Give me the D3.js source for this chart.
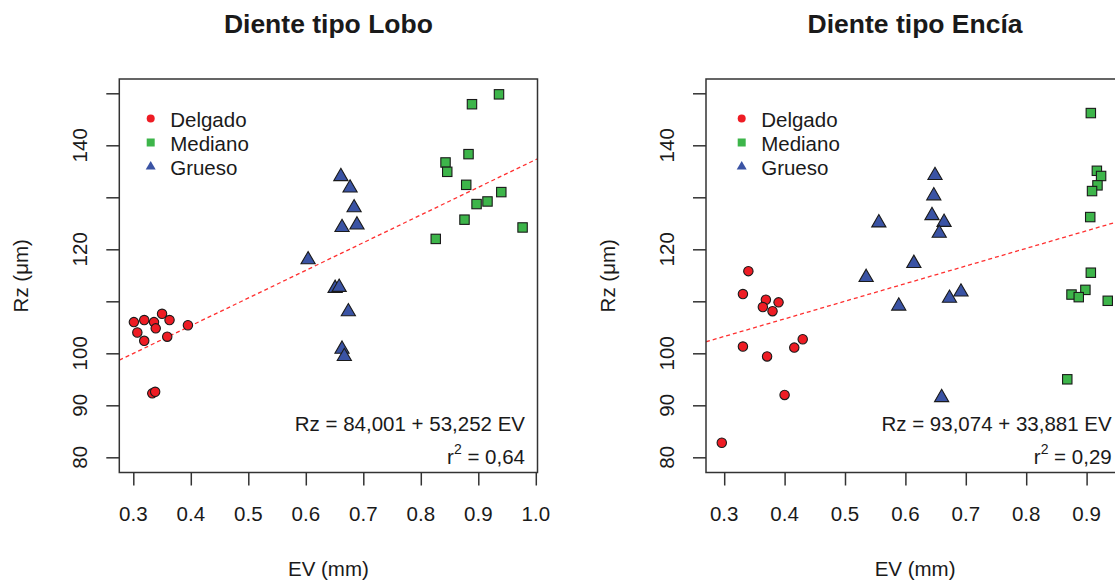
<!DOCTYPE html>
<html>
<head>
<meta charset="utf-8">
<script src="https://cdn.jsdelivr.net/npm/d3@7"></script>
<style>
  body { margin: 0; background: #fff; }
  text { font-family: "Liberation Sans", Arial, sans-serif; fill: #1a1a1a; }
</style>
</head>
<body>
<div id="chart"></div>
<script>
// data
var groups = ["Delgado", "Mediano", "Grueso"]
var groupColors = ["#ee1c24", "#3db54a", "#3a53a4"]

var delgadoLoboEV = [0.301, 0.319, 0.336, 0.350, 0.363, 0.307, 0.339, 0.319, 0.359, 0.395, 0.333, 0.338]
var delgadoLoboRz = [106.0, 106.4, 106.0, 107.6, 106.4, 104.0, 104.8, 102.4, 103.2, 105.4, 92.3, 92.6]
var medianoLoboEV = [0.936, 0.889, 0.883, 0.843, 0.846, 0.879, 0.940, 0.916, 0.897, 0.876, 0.977, 0.826]
var medianoLoboRz = [149.8, 147.9, 138.3, 136.7, 134.9, 132.4, 131.0, 129.2, 128.7, 125.7, 124.2, 122.0]
var gruesoLoboEV = [0.604, 0.651, 0.658, 0.674, 0.663, 0.667, 0.661, 0.677, 0.684, 0.689, 0.663]
var gruesoLoboRz = [118.0, 112.5, 112.7, 108.0, 100.8, 99.4, 134.0, 131.8, 128.0, 124.7, 124.2]

var delgadoEnciaEV = [0.340, 0.331, 0.369, 0.390, 0.364, 0.380, 0.331, 0.430, 0.416, 0.371, 0.400, 0.296]
var delgadoEnciaRz = [115.8, 111.4, 110.3, 109.8, 108.9, 108.1, 101.3, 102.7, 101.1, 99.4, 92.0, 82.8]
var medianoEnciaEV = [0.907, 0.917, 0.924, 0.918, 0.909, 0.906, 0.907, 0.898, 0.875, 0.887, 0.935, 0.868]
var medianoEnciaRz = [146.2, 135.1, 134.1, 132.3, 131.2, 126.2, 115.5, 112.2, 111.3, 110.8, 110.1, 95.0]
var gruesoEnciaEV = [0.649, 0.647, 0.644, 0.664, 0.656, 0.556, 0.614, 0.535, 0.589, 0.673, 0.692, 0.660]
var gruesoEnciaRz = [134.2, 130.3, 126.5, 125.2, 123.1, 125.1, 117.3, 114.6, 109.1, 110.6, 111.8, 91.5]

// regression: intercept, slope, r2
var fitLobo = [84.001, 53.252, 0.64]
var fitEncia = [93.074, 33.881, 0.29]
var eqLobo = ["Rz = 84,001 + 53,252 EV", "0,64"]
var eqEncia = ["Rz = 93,074 + 33,881 EV", "0,29"]

var xTicksLobo = [0.3, 0.4, 0.5, 0.6, 0.7, 0.8, 0.9, 1.0]
var xTicksEncia = [0.3, 0.4, 0.5, 0.6, 0.7, 0.8, 0.9]
var yTicks = [80, 90, 100, 110, 120, 130, 140, 150]
var yLabels = [80, 90, 100, 120, 140]

var svgWidth = 1115
var svgHeight = 580
var fontSize = 20.5

var svg = d3.select("#chart")
    .append("svg")
    .attr("width", svgWidth)
    .attr("height", svgHeight)

svg.append("rect")
    .attr("width", svgWidth)
    .attr("height", svgHeight)
    .attr("fill", "#fff")

function toPoints(ev, rz) {
    return ev.map((d, i) => ({ ev: d, rz: rz[i] }))
}

function drawPanel(p) {
    var xScale = d3.scaleLinear().domain(p.xDomain).range([p.left, p.right])
    var yScale = d3.scaleLinear().domain([77.08, 152.75]).range([472.5, 79])
    var top = 79, bottom = 472.5

    var g = svg.append("g")

    var clipId = "clip" + p.id
    g.append("clipPath").attr("id", clipId)
        .append("rect")
        .attr("x", p.left).attr("y", top)
        .attr("width", p.right - p.left).attr("height", bottom - top)

    // title
    g.append("text")
        .attr("x", (p.left + p.right) / 2)
        .attr("y", 33)
        .attr("text-anchor", "middle")
        .attr("font-size", 26.5)
        .attr("font-weight", "bold")
        .text(p.title)

    // axes
    var xAxis = d3.axisBottom(xScale).tickValues(p.xTicks).tickSize(13).tickFormat("")
    var xg = g.append("g")
        .attr("transform", `translate(0, ${bottom})`)
        .call(xAxis)
    xg.select(".domain").remove()
    xg.selectAll("line").attr("stroke", "#333").attr("stroke-width", 1.5)

    g.append("g").selectAll("text")
        .data(p.xTicks)
        .enter()
        .append("text")
        .attr("x", d => xScale(d))
        .attr("y", 521)
        .attr("text-anchor", "middle")
        .attr("font-size", fontSize)
        .text(d => d3.format(".1f")(d))

    var yAxis = d3.axisLeft(yScale).tickValues(yTicks).tickSize(13).tickFormat("")
    var yg = g.append("g")
        .attr("transform", `translate(${p.left}, 0)`)
        .call(yAxis)
    yg.select(".domain").remove()
    yg.selectAll("line").attr("stroke", "#333").attr("stroke-width", 1.5)

    g.append("g").selectAll("text")
        .data(yLabels)
        .enter()
        .append("text")
        .attr("transform", d => `translate(${p.left - 32}, ${yScale(d)}) rotate(-90)`)
        .attr("text-anchor", "middle")
        .attr("font-size", fontSize)
        .text(d => d)

    // axis titles
    g.append("text")
        .attr("x", (p.left + p.right) / 2)
        .attr("y", 576)
        .attr("text-anchor", "middle")
        .attr("font-size", fontSize)
        .text("EV (mm)")

    g.append("text")
        .attr("transform", `translate(${p.left - 91}, ${(top + bottom) / 2}) rotate(-90)`)
        .attr("text-anchor", "middle")
        .attr("font-size", fontSize)
        .text("Rz (μm)")

    // regression line
    g.append("line")
        .attr("clip-path", `url(#${clipId})`)
        .attr("x1", xScale(p.xDomain[0]))
        .attr("y1", yScale(p.fit[0] + p.fit[1] * p.xDomain[0]))
        .attr("x2", xScale(p.xDomain[1]))
        .attr("y2", yScale(p.fit[0] + p.fit[1] * p.xDomain[1]))
        .attr("stroke", "#ff3030")
        .attr("stroke-width", 1.3)
        .attr("stroke-dasharray", "4,3")

    // points
    var pts = g.append("g").attr("stroke", "#1a1a1a").attr("stroke-width", 1.1)

    pts.selectAll("circle")
        .data(p.delgado)
        .enter()
        .append("circle")
        .attr("cx", d => xScale(d.ev))
        .attr("cy", d => yScale(d.rz))
        .attr("r", 4.7)
        .attr("fill", groupColors[0])

    pts.selectAll("rect")
        .data(p.mediano)
        .enter()
        .append("rect")
        .attr("x", d => xScale(d.ev) - 4.7)
        .attr("y", d => yScale(d.rz) - 4.7)
        .attr("width", 9.4)
        .attr("height", 9.4)
        .attr("fill", groupColors[1])

    pts.selectAll("path")
        .data(p.grueso)
        .enter()
        .append("path")
        .attr("d", d => {
            var cx = xScale(d.ev), cy = yScale(d.rz)
            return `M${cx},${cy - 8.2}L${cx + 7.1},${cy + 4.1}L${cx - 7.1},${cy + 4.1}Z`
        })
        .attr("fill", groupColors[2])

    // box
    g.append("rect")
        .attr("x", p.left).attr("y", top)
        .attr("width", p.right - p.left).attr("height", bottom - top)
        .attr("fill", "none")
        .attr("stroke", "#333")
        .attr("stroke-width", 1.5)

    // legend
    var lx = p.left + p.legendDx
    var leg = g.append("g")
    groups.forEach((name, i) => {
        var ly = 118.5 + i * 24
        if (i === 0) {
            leg.append("circle").attr("cx", lx).attr("cy", ly).attr("r", 4).attr("fill", groupColors[0])
        } else if (i === 1) {
            leg.append("rect").attr("x", lx - 4).attr("y", ly - 4).attr("width", 8).attr("height", 8)
                .attr("fill", groupColors[1])
        } else {
            leg.append("path")
                .attr("d", `M${lx},${ly - 5.5}L${lx + 5},${ly + 3}L${lx - 5},${ly + 3}Z`)
                .attr("fill", groupColors[2])
        }
        leg.append("text")
            .attr("x", lx + 19.5)
            .attr("y", ly + 8)
            .attr("font-size", fontSize)
            .text(name)
    })

    // equation
    g.append("text")
        .attr("x", p.right - 12.5)
        .attr("y", 430.5)
        .attr("text-anchor", "end")
        .attr("font-size", fontSize)
        .text(p.eq[0])

    var r2 = g.append("text")
        .attr("x", p.right - 12.5)
        .attr("y", 463.5)
        .attr("text-anchor", "end")
        .attr("font-size", fontSize)
    r2.append("tspan").text("r")
    r2.append("tspan").attr("dy", -10).attr("font-size", 14).text("2")
    r2.append("tspan").attr("dy", 10).text(" = " + p.eq[1])
}

drawPanel({
    id: "lobo",
    title: "Diente tipo Lobo",
    left: 119.3,
    right: 537.5,
    xDomain: [0.27565, 1.00296],
    xTicks: xTicksLobo,
    fit: fitLobo,
    eq: eqLobo,
    legendDx: 31.4,
    delgado: toPoints(delgadoLoboEV, delgadoLoboRz),
    mediano: toPoints(medianoLoboEV, medianoLoboRz),
    grueso: toPoints(gruesoLoboEV, gruesoLoboRz)
})

drawPanel({
    id: "encia",
    title: "Diente tipo Encía",
    left: 706,
    right: 1124.2,
    xDomain: [0.26987, 0.96225],
    xTicks: xTicksEncia,
    fit: fitEncia,
    eq: eqEncia,
    legendDx: 35.7,
    delgado: toPoints(delgadoEnciaEV, delgadoEnciaRz),
    mediano: toPoints(medianoEnciaEV, medianoEnciaRz),
    grueso: toPoints(gruesoEnciaEV, gruesoEnciaRz)
})
</script>
</body>
</html>
